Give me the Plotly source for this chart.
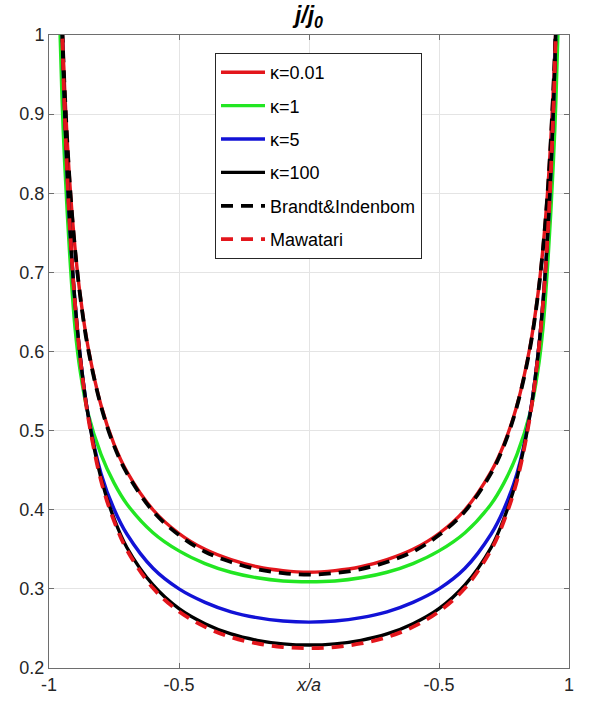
import plotly.graph_objects as go

# Normalised position across the strip
x_pos = [-0.97, -0.96, -0.95, -0.94, -0.92, -0.90, -0.88, -0.85, -0.80, -0.75, -0.70,
         -0.60, -0.50, -0.40, -0.30, -0.20, -0.10, 0.00,
         0.10, 0.20, 0.30, 0.40, 0.50, 0.60, 0.70, 0.75, 0.80, 0.85, 0.88, 0.90,
         0.92, 0.94, 0.95, 0.96, 0.97]

# Current density j/j0 for each parameter value
j_kappa_001 = [1.310, 1.137, 1.020, 0.934, 0.813, 0.731, 0.671, 0.606, 0.532, 0.483, 0.448,
               0.400, 0.370, 0.350, 0.337, 0.328, 0.323, 0.321,
               0.323, 0.328, 0.337, 0.350, 0.370, 0.400, 0.448, 0.483, 0.532, 0.606, 0.671, 0.731,
               0.813, 0.934, 1.020, 1.137, 1.310]
j_kappa_1 = [1.220, 1.030, 0.920, 0.840, 0.720, 0.630, 0.575, 0.522, 0.470, 0.434, 0.407,
             0.371, 0.348, 0.332, 0.321, 0.314, 0.310, 0.309,
             0.310, 0.314, 0.321, 0.332, 0.348, 0.371, 0.407, 0.434, 0.470, 0.522, 0.575, 0.630,
             0.720, 0.840, 0.920, 1.030, 1.220]
j_kappa_5 = [1.400, 1.168, 1.016, 0.906, 0.758, 0.662, 0.594, 0.521, 0.446, 0.401, 0.369,
             0.326, 0.300, 0.283, 0.271, 0.2636, 0.2594, 0.258,
             0.2594, 0.2636, 0.271, 0.283, 0.300, 0.326, 0.369, 0.401, 0.446, 0.521, 0.594, 0.662,
             0.758, 0.906, 1.016, 1.168, 1.400]
j_kappa_100 = [1.400, 1.168, 1.016, 0.907, 0.760, 0.663, 0.594, 0.520, 0.440, 0.389, 0.352,
               0.305, 0.275, 0.256, 0.243, 0.235, 0.2305, 0.229,
               0.2305, 0.235, 0.243, 0.256, 0.275, 0.305, 0.352, 0.389, 0.440, 0.520, 0.594, 0.663,
               0.760, 0.907, 1.016, 1.168, 1.400]
j_brandt = [1.309, 1.137, 1.019, 0.933, 0.812, 0.730, 0.670, 0.604, 0.531, 0.481, 0.446,
            0.398, 0.368, 0.347, 0.334, 0.325, 0.320, 0.318,
            0.320, 0.325, 0.334, 0.347, 0.368, 0.398, 0.446, 0.481, 0.531, 0.604, 0.670, 0.730,
            0.812, 0.933, 1.019, 1.137, 1.309]
j_mawatari = [1.400, 1.167, 1.015, 0.906, 0.758, 0.661, 0.592, 0.518, 0.437, 0.386, 0.349,
              0.301, 0.2715, 0.252, 0.239, 0.231, 0.2265, 0.225,
              0.2265, 0.231, 0.239, 0.252, 0.2715, 0.301, 0.349, 0.386, 0.437, 0.518, 0.592, 0.661,
              0.758, 0.906, 1.015, 1.167, 1.400]

x_ticks = [-1, -0.5, 0, 0.5, 1]
x_tick_text = ["-1", "-0.5", "<i>x/a</i>", "-0.5", "1"]
y_ticks = [0.2, 0.3, 0.4, 0.5, 0.6, 0.7, 0.8, 0.9, 1.0]
y_tick_text = ["0.2", "0.3", "0.4", "0.5", "0.6", "0.7", "0.8", "0.9", "1"]

series = [
    ("\u03ba=0.01", j_kappa_001, "#e3161c", "solid", 3.4),
    ("\u03ba=1", j_kappa_1, "#22e622", "solid", 3.4),
    ("\u03ba=5", j_kappa_5, "#1212d6", "solid", 3.4),
    ("\u03ba=100", j_kappa_100, "#000000", "solid", 3.4),
    ("Brandt&Indenbom", j_brandt, "#000000", "12px,8px", 3.8),
    ("Mawatari", j_mawatari, "#e3161c", "12px,8px", 3.8),
]

fig = go.Figure()
for i, (name, vals, color, dash, width) in enumerate(series):
    fig.add_trace(go.Scatter(
        x=x_pos, y=vals, mode="lines", name=name, legendgroup=f"g{i}",
        line=dict(color=color, width=width, dash=dash, shape="spline", smoothing=1.0),
    ))

axis_col = "#6e6e6e"
grid_col = "#e4e4e4"
fig.update_layout(
    width=591, height=702,
    margin=dict(l=49, r=22, t=35, b=34, autoexpand=False),
    paper_bgcolor="white", plot_bgcolor="white",
    font=dict(family="Arial, Liberation Sans, sans-serif", size=18, color="#262626"),
    title=dict(text="<b><i>j/j<sub>0</sub></i></b>", x=0.5, xref="paper", xanchor="center",
               y=1 - 15 / 702, yref="container", yanchor="middle",
               font=dict(size=23, color="#000000")),
    xaxis=dict(range=[-1, 1], tickvals=x_ticks, ticktext=x_tick_text, automargin=False,
               ticks="inside", ticklen=5, tickcolor=axis_col, showline=True, linecolor=axis_col,
               linewidth=1, mirror="ticks", showgrid=True, gridcolor=grid_col, zeroline=False),
    yaxis=dict(range=[0.2, 1], tickvals=y_ticks, ticktext=y_tick_text, automargin=False,
               ticks="inside", ticklen=5, tickcolor=axis_col, showline=True, linecolor=axis_col,
               linewidth=1, mirror="ticks", showgrid=True, gridcolor=grid_col, zeroline=False),
    legend=dict(x=(215 - 49) / 520, y=1 - (53 - 35) / 633, xanchor="left", yanchor="top",
                bgcolor="white", bordercolor="#262626", borderwidth=1,
                font=dict(size=18, color="#000000"), traceorder="grouped",
                tracegroupgap=7, itemwidth=44),
    showlegend=True,
)

fig.write_html("out.html")
